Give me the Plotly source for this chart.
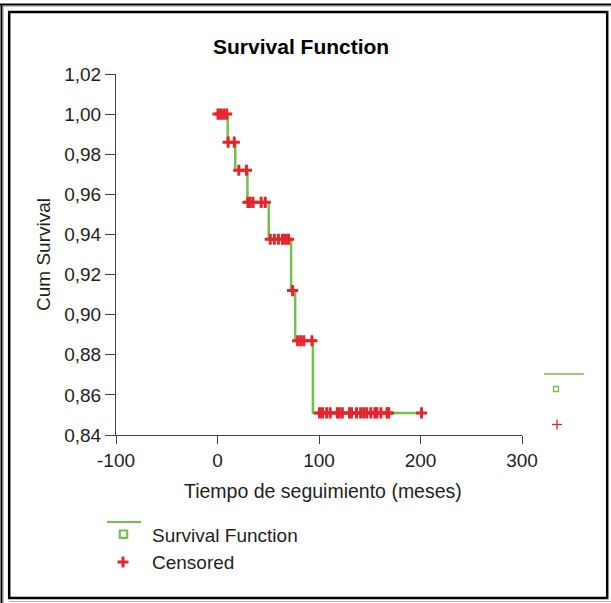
import plotly.graph_objects as go

# ---- data ----
step_times = [0, 10, 17.5, 29.5, 50.5, 72.5, 76.5, 94, 201]
step_surv = [1.0, 0.986, 0.972, 0.956, 0.9376, 0.912, 0.887, 0.851, 0.851]

cens_times = [0.5, 3, 6, 9,
              10.5, 16.5,
              21, 28.5,
              30, 32, 35, 43, 47,
              52, 56, 60, 64, 67, 70,
              74,
              79, 82, 85, 93,
              100.5, 103.5, 107.5, 111, 118, 120, 123, 130, 132, 137, 141, 144,
              147, 151, 155, 157, 161, 167, 168.5, 201]
cens_surv = [1.0] * 4 + [0.986] * 2 + [0.972] * 2 + [0.956] * 5 + [0.9376] * 6 + \
            [0.912] + [0.887] * 4 + [0.851] * 20

x_ticks = [-100, 0, 100, 200, 300]
x_tick_labels = ["-100", "0", "100", "200", "300"]
y_ticks = [0.84, 0.86, 0.88, 0.90, 0.92, 0.94, 0.96, 0.98, 1.00, 1.02]

GREEN = "#72c14b"
RED = "#e5252d"
TXT = "#231f20"
FONT = "Liberation Sans, Arial, sans-serif"

W, H = 611, 603
L, R, T, B = 116, 89, 74, 168
PW, PH = W - L - R, H - T - B


def px(x):
    return (x - L) / PW


def py(y):
    return (H - B - y) / PH


fig = go.Figure()
fig.add_trace(go.Scatter(x=step_times, y=step_surv, mode="lines",
                         line=dict(color=GREEN, width=2.5, shape="hv"),
                         showlegend=False, hoverinfo="skip"))
fig.add_trace(go.Scatter(x=cens_times, y=cens_surv, mode="markers",
                         marker=dict(symbol="cross-thin", size=8,
                                     line=dict(color=RED, width=3)),
                         showlegend=False))

shapes = []
# frame
shapes.append(dict(type="line", xref="paper", yref="paper", x0=px(0), x1=px(611),
                   y0=py(4.5), y1=py(4.5), line=dict(color="black", width=2)))
shapes.append(dict(type="line", xref="paper", yref="paper", x0=px(1.5), x1=px(1.5),
                   y0=py(4), y1=py(603), line=dict(color="black", width=2)))
shapes.append(dict(type="line", xref="paper", yref="paper", x0=px(3.5), x1=px(3.5),
                   y0=py(6), y1=py(603), line=dict(color="#bbbbbb", width=1)))
shapes.append(dict(type="line", xref="paper", yref="paper", x0=px(3), x1=px(611),
                   y0=py(6.5), y1=py(6.5), line=dict(color="#bbbbbb", width=1)))
shapes.append(dict(type="line", xref="paper", yref="paper", x0=px(9), x1=px(611),
                   y0=py(601.5), y1=py(601.5), line=dict(color="#bbbbbb", width=1)))
shapes.append(dict(type="rect", xref="paper", yref="paper", x0=px(9.2), x1=px(607.2),
                   y0=py(12), y1=py(598), line=dict(color="black", width=2.5)))
# bottom legend
shapes.append(dict(type="line", xref="paper", yref="paper", x0=px(107), x1=px(141),
                   y0=py(522), y1=py(522), line=dict(color=GREEN, width=2)))
shapes.append(dict(type="rect", xref="paper", yref="paper", x0=px(119.8), x1=px(127.2),
                   y0=py(530.5), y1=py(537.8), line=dict(color=GREEN, width=2.2)))
shapes.append(dict(type="line", xref="paper", yref="paper", x0=px(117.5), x1=px(128.5),
                   y0=py(562), y1=py(562), line=dict(color=RED, width=3)))
shapes.append(dict(type="line", xref="paper", yref="paper", x0=px(123), x1=px(123),
                   y0=py(556.5), y1=py(567.5), line=dict(color=RED, width=3)))
# right-side residual legend
shapes.append(dict(type="line", xref="paper", yref="paper", x0=px(544), x1=px(584),
                   y0=py(374), y1=py(374), line=dict(color=GREEN, width=1.5)))
shapes.append(dict(type="rect", xref="paper", yref="paper", x0=px(553.5), x1=px(558.5),
                   y0=py(386.5), y1=py(391.5), line=dict(color=GREEN, width=1.3)))
shapes.append(dict(type="line", xref="paper", yref="paper", x0=px(552), x1=px(562),
                   y0=py(424.5), y1=py(424.5), line=dict(color=RED, width=1.3)))
shapes.append(dict(type="line", xref="paper", yref="paper", x0=px(557), x1=px(557),
                   y0=py(419.5), y1=py(429.5), line=dict(color=RED, width=1.3)))

annotations = [
    dict(text="<b>Survival Function</b>", xref="paper", yref="paper",
         x=px(301), y=py(46), xanchor="center", yanchor="middle", showarrow=False,
         font=dict(family=FONT, size=21, color="black")),
    dict(text="Tiempo de seguimiento (meses)", xref="paper", yref="paper",
         x=px(323), y=py(491), xanchor="center", yanchor="middle", showarrow=False,
         font=dict(family=FONT, size=19.5, color=TXT)),
    dict(text="Cum Survival", xref="paper", yref="paper", textangle=-90,
         x=px(43), y=py(255), xanchor="center", yanchor="middle", showarrow=False,
         font=dict(family=FONT, size=19, color=TXT)),
    dict(text="Survival Function", xref="paper", yref="paper",
         x=px(150), y=py(535), xanchor="left", yanchor="middle", showarrow=False,
         font=dict(family=FONT, size=19, color=TXT)),
    dict(text="Censored", xref="paper", yref="paper",
         x=px(150), y=py(562), xanchor="left", yanchor="middle", showarrow=False,
         font=dict(family=FONT, size=19, color=TXT)),
]

fig.update_layout(
    width=W, height=H,
    margin=dict(l=L, r=R, t=T, b=B, autoexpand=False),
    paper_bgcolor="white", plot_bgcolor="white",
    separators=",.",
    font=dict(family=FONT, size=19, color=TXT),
    showlegend=False,
    shapes=shapes,
    annotations=annotations,
    xaxis=dict(range=[-100, 300], tickvals=x_ticks, ticktext=x_tick_labels,
               showgrid=False, zeroline=False,
               showline=True, linecolor="#444444", linewidth=1,
               ticks="outside", ticklen=8, tickcolor="#444444",
               tickfont=dict(size=19, color=TXT)),
    yaxis=dict(range=[0.84, 1.02], tickvals=y_ticks, tickformat=".2f",
               showgrid=False, zeroline=False,
               showline=True, linecolor="#444444", linewidth=1,
               ticks="outside", ticklen=10, tickcolor="#444444",
               tickfont=dict(size=19, color=TXT)),
)

fig.write_html("out.html",
               config={"displayModeBar": False},
               post_script="document.body.style.margin='0px';"
                           "document.body.style.overflow='hidden';")
